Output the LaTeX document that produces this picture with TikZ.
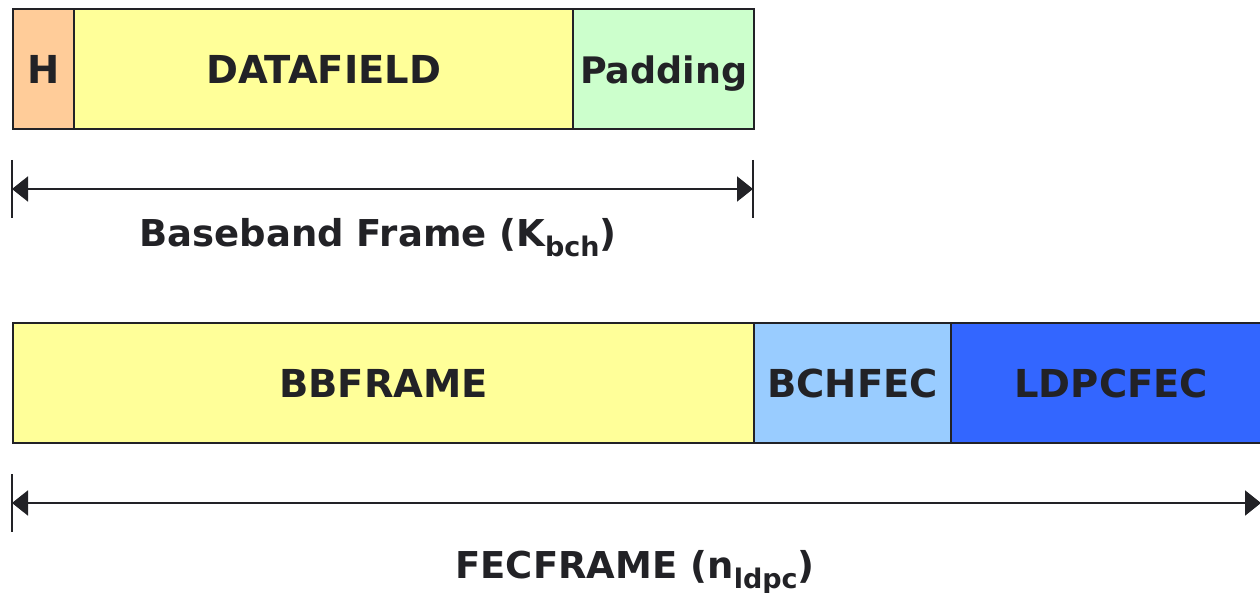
\documentclass[tikz,border=0pt]{standalone}
\usepackage{fontspec}
\setmainfont{DejaVu Sans}
\usetikzlibrary{arrows.meta}
\definecolor{inkc}{HTML}{222226}
\definecolor{hcol}{HTML}{FFCC99}
\definecolor{datacol}{HTML}{FFFF99}
\definecolor{padcol}{HTML}{CCFFCC}
\definecolor{bchcol}{HTML}{99CCFF}
\definecolor{ldpccol}{HTML}{3366FF}
\tikzset{
  fieldbox/.style={draw=inkc, line width=2.4pt, minimum height=120pt, inner sep=0pt,
    anchor=north west, text=inkc, text height=28pt, text depth=0pt,
    font=\bfseries\fontsize{38.5}{42}\selectfont},
  dimarrow/.style={draw=inkc, line width=2pt, {Triangle[length=16pt,width=25pt]}-{Triangle[length=16pt,width=25pt]}},
  ticklinestyle/.style={draw=inkc, line width=2pt},
  dimlabel/.style={text=inkc, anchor=base, inner sep=0pt, font=\bfseries\fontsize{37}{40}\selectfont}
}
\newcommand{\subtxt}[1]{\raisebox{-10pt}{\fontsize{27}{30}\selectfont #1}}
\begin{document}
\begin{tikzpicture}[x=1pt,y=-1pt]
\useasboundingbox (0,0) rectangle (1260,593);
\clip (0,0) rectangle (1260,593);
% top row
\node[fieldbox, fill=hcol, minimum width=61pt] (h) at (12,8) {H};
\node[fieldbox, fill=datacol, minimum width=499pt] (data) at (73,8) {DATAFIELD};
\node[fieldbox, fill=padcol, minimum width=181pt, font=\bfseries\fontsize{36.5}{40}\selectfont] (pad) at (572,8) {Padding};
% dimension 1
\coordinate (t1a) at (12,160); \coordinate (t1b) at (12,218);
\coordinate (t2a) at (753,160); \coordinate (t2b) at (753,218);
\coordinate (a1l) at (12,189); \coordinate (a1r) at (753,189);
\draw[ticklinestyle] (t1a) -- (t1b);
\draw[ticklinestyle] (t2a) -- (t2b);
\draw[dimarrow] (a1l) -- (a1r);
\node[dimlabel] (bblabel) at (378,247) {Baseband Frame (K\subtxt{bch})};
% bottom row
\node[fieldbox, fill=datacol, minimum width=741pt] (bb) at (12,322) {BBFRAME};
\node[fieldbox, fill=bchcol, minimum width=197pt] (bch) at (753,322) {BCHFEC};
\node[fieldbox, fill=ldpccol, minimum width=320pt] (ldpc) at (950,322) {LDPCFEC};
% dimension 2
\coordinate (t3a) at (12,474); \coordinate (t3b) at (12,532);
\coordinate (a2l) at (12,503); \coordinate (a2r) at (1261,503);
\draw[ticklinestyle] (t3a) -- (t3b);
\draw[dimarrow] (a2l) -- (a2r);
\node[dimlabel] (feclabel) at (635,578) {FECFRAME (n\subtxt{ldpc})};
\end{tikzpicture}
\end{document}
